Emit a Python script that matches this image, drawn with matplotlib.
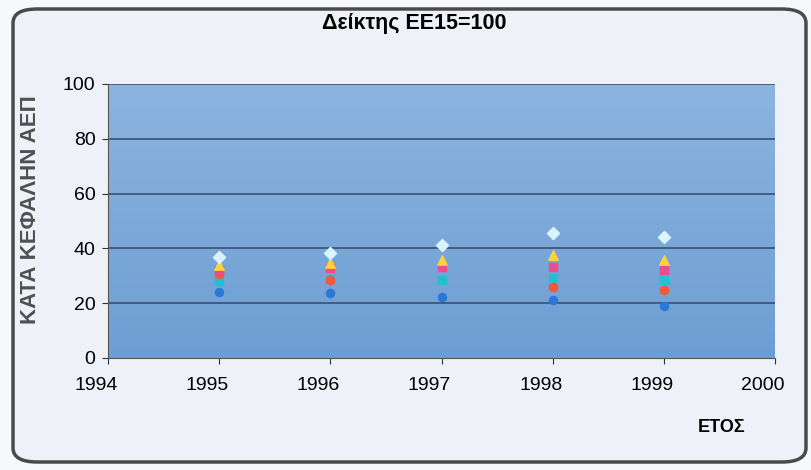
import matplotlib
matplotlib.use("Agg")
import matplotlib.pyplot as plt
import numpy as np
from matplotlib.patches import FancyBboxPatch
from matplotlib.colors import LinearSegmentedColormap
from matplotlib.transforms import ScaledTranslation

years = [1995, 1996, 1997, 1998, 1999]
s_diamond = [37.0, 38.3, 41.2, 45.6, 44.2]
s_triangle = [34.0, 34.7, 35.8, 37.6, 35.8]
s_square = [32.0, 32.8, 33.2, 33.2, 32.0]
s_circle = [30.5, 28.5, 34.0, 26.0, 25.0]
s_cross = [28.0, 29.0, 28.5, 29.2, 28.5]
s_blue = [24.0, 23.7, 22.3, 21.0, 19.0]

title = "Δείκτης ΕΕ15=100"
ylabel = "ΚΑΤΑ ΚΕΦΑΛΗΝ ΑΕΠ"
xlabel = "ΕΤΟΣ"
yticks = [0, 20, 40, 60, 80, 100]
xticks = [1994, 1995, 1996, 1997, 1998, 1999, 2000]

plt.rcParams['font.family'] = ['Liberation Sans', 'DejaVu Sans']

fig = plt.figure(figsize=(8.11, 4.70), dpi=100)
fig.patch.set_facecolor('#f7f8fb')

# rounded chart border
border = FancyBboxPatch((13/811, 8/470), 793/811, 453/470,
                        boxstyle="round,pad=0,rounding_size=0.03",
                        transform=fig.transFigure, facecolor='#eef2f8',
                        edgecolor='#4a4a4a', linewidth=2.5, zorder=-10)
fig.patches.append(border)

ax = fig.add_axes([108/811, (470-358)/470, (775-108)/811, (358-84)/470])
ax.set_zorder(5)
ax.set_xlim(1994, 2000)
ax.set_ylim(0, 100)

# gradient plot-area background
grad = np.linspace(0, 1, 256).reshape(-1, 1)
cmap = LinearSegmentedColormap.from_list('bg', ['#6d9ed3', '#8db4df'])
ax.imshow(grad, extent=[1994, 2000, 0, 100], aspect='auto', cmap=cmap,
          origin='lower', zorder=0)

for y in yticks[1:]:
    ax.axhline(y, color='#34476a', linewidth=1.1, zorder=1)

ax.scatter(years, s_blue, marker='o', s=34, color='#2a78d8', zorder=3)
ax.scatter(years, s_cross, marker='s', s=34, color='#22c0d0', zorder=3)
ax.scatter(years, s_circle, marker='o', s=36, color='#f05a3a', zorder=3)
ax.scatter(years, s_square, marker='s', s=36, color='#ee4a8e', zorder=3)
ax.scatter(years, s_triangle, marker='^', s=46, color='#ffd23a', zorder=3)
ax.scatter(years, s_diamond, marker='D', s=38, color='#d8f4ff', zorder=3)

ax.set_xticks(xticks)
ax.set_xticklabels([str(x) for x in xticks], fontsize=14)
ax.set_yticks(yticks)
ax.set_yticklabels([str(y) for y in yticks], fontsize=14)
ax.tick_params(axis='both', color='#333333', length=4)
ax.tick_params(axis='x', pad=10)
ax.tick_params(axis='y', pad=5)
for lab in ax.get_xticklabels():
    lab.set_transform(lab.get_transform() + ScaledTranslation(-0.12, 0, fig.dpi_scale_trans))
for sp in ax.spines.values():
    sp.set_visible(False)
ax.spines['left'].set_visible(True)
ax.spines['bottom'].set_visible(True)
ax.spines['left'].set_color('#555555')
ax.spines['bottom'].set_color('#555555')

fig.text(414/811, 1 - 23/470, title, ha='center', va='center',
         fontsize=15.5, fontweight='bold')
fig.text(30/811, 1 - 210/470, ylabel, rotation=90, ha='center', va='center',
         fontsize=16, fontweight='bold', color='#505050')
fig.text(722/811, 1 - 428/470, xlabel, ha='center', va='center',
         fontsize=13, fontweight='bold')

fig.savefig('out.png', dpi=100, facecolor=fig.get_facecolor())
